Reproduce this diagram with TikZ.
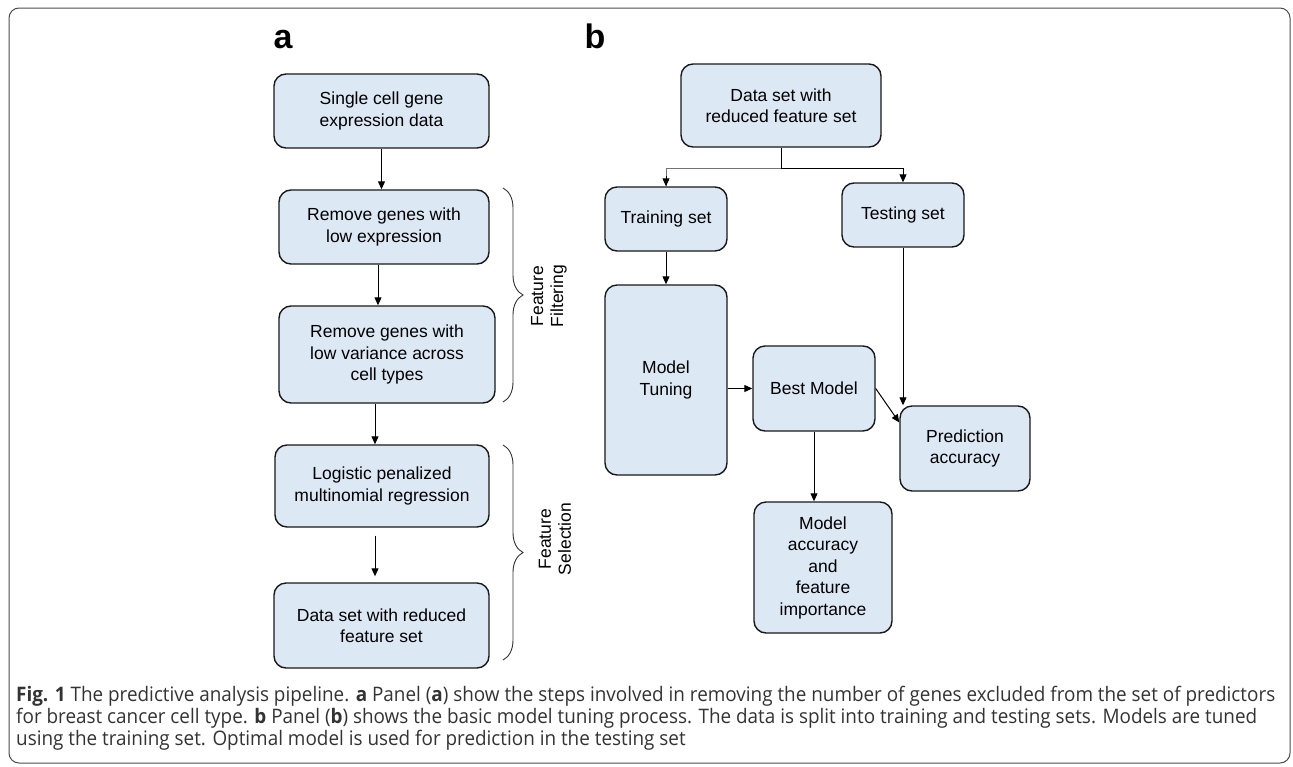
\documentclass[tikz,border=0pt]{standalone}
\usepackage{fontspec}
\usepackage{graphicx}
\usepackage{tikz}
\usetikzlibrary{arrows.meta,decorations.pathreplacing}
\setmainfont{Liberation Sans}
\newfontfamily\capfont{Open Sans}
\definecolor{boxblue}{RGB}{221,232,245}
\newlength\capwd
\newcommand\capA{\textbf{Fig. 1} The predictive analysis pipeline. \textbf{a} Panel (\textbf{a}) show the steps involved in removing the number of genes excluded from the set of predictors}
\newcommand\capB{for breast cancer cell type. \textbf{b} Panel (\textbf{b}) shows the basic model tuning process. The data is split into training and testing sets. Models are tuned}
\newcommand\capC{using the training set. Optimal model is used for prediction in the testing set}
\newcommand\capsize{\capfont\fontsize{20}{24}\selectfont}
\AtBeginDocument{\settowidth\capwd{\capsize\capA}\pgfmathsetmacro\capsx{1259/\capwd}}

\begin{document}
\begin{tikzpicture}[x=1pt,y=-1pt,
    stepbox/.style={draw=black!90,line width=1.4pt,fill=boxblue,rounded corners=12pt,align=center,inner sep=0pt,font=\fontsize{17.5}{21.5}\selectfont},
    arr/.style={-{Triangle[length=8pt,width=7pt]},line width=1pt},
    panel/.style={font=\fontsize{34}{34}\selectfont\bfseries,anchor=base},
    bracetxt/.style={rotate=90,align=center,font=\fontsize{17.5}{20}\selectfont},
    grp/.style={decorate,decoration={brace,amplitude=20pt},line width=0.9pt,black!80}]
                \useasboundingbox (0,0) rectangle (1293,766);
                \draw[rounded corners=10pt,line width=1pt,black!70] (9,8) rectangle (1290,763);
                \node[panel] (la) at (283,48) {a};
                \node[panel] (lb) at (595,48) {b};
                % panel a
                \node[stepbox,minimum width=215pt,minimum height=74pt] (single) at (381.5,111) {Single cell gene\\expression data};
                \node[stepbox,minimum width=210pt,minimum height=74pt] (lowexpr) at (384,227) {Remove genes with\\low expression};
                \node[stepbox,minimum width=216pt,minimum height=97pt] (lowvar) at (387,354.5) {Remove genes with\\low variance across\\cell types};
                \node[stepbox,minimum width=214pt,minimum height=82pt] (logit) at (382,486) {Logistic penalized\\multinomial regression};
                \node[stepbox,minimum width=215pt,minimum height=85pt] (reduced) at (381.5,625.5) {Data set with reduced\\feature set};
                \draw[arr] (single.south) -- (single.south |- lowexpr.north);
                \draw[arr] ([xshift=-6pt]lowexpr.south) -- ([xshift=-6pt]lowexpr.south |- lowvar.north);
                \draw[arr] ([xshift=-12pt]lowvar.south) -- ([xshift=-12pt]lowvar.south |- logit.north);
                \draw[arr,shorten <=8pt,shorten >=6pt] ([xshift=-7pt]logit.south) -- ([xshift=-7pt]logit.south |- reduced.north);
                \draw[grp] (503,188) -- (503,402);
                \node[bracetxt] (filt) at (549,296) {Feature\\Filtering};
                \draw[grp] (503,445) -- (503,660);
                \node[bracetxt] (sel) at (555,539) {Feature\\Selection};
                % panel b
                \node[stepbox,minimum width=200pt,minimum height=83pt] (dataset) at (781,105.5) {Data set with\\reduced feature set};
                \node[stepbox,minimum width=122pt,minimum height=64pt] (train) at (666,219) {Training set};
                \node[stepbox,minimum width=122pt,minimum height=64pt] (test) at (903,215) {Testing set};
                \node[stepbox,minimum width=122pt,minimum height=190pt] (tuning) at (666,380) {Model\\Tuning};
                \node[stepbox,minimum width=122pt,minimum height=85pt] (best) at (814,388.5) {Best Model};
                \node[stepbox,minimum width=130pt,minimum height=85pt] (predacc) at (965,448.5) {Prediction\\accuracy};
                \node[stepbox,minimum width=138pt,minimum height=131pt] (modelacc) at (823,567.5) {Model\\accuracy\\and\\feature\\importance};
                \draw[black!55,line width=1pt] (dataset.south) -- ++(0,21) -| (train.north);
                \draw[arr] ([yshift=10pt]train.north) -- (train.north);
                \draw[arr] (dataset.south) -- ++(0,21) -| (test.north);
                \draw[arr] (train) -- (tuning);
                \draw[arr] (test.south) -- (test.south |- predacc.north);
                \draw[arr] (tuning.east |- best.west) -- (best.west);
                \draw[arr] (best.east) -- ([yshift=26pt]predacc.west);
                \draw[arr] (best.south) -- (best.south |- modelacc.north);
                % caption
                \node[anchor=base west,inner sep=0pt,black!80] (capa) at (16,701) {\scalebox{\capsx}[1]{\capsize\capA}};
                \node[anchor=base west,inner sep=0pt,black!80] (capb) at (16,723) {\scalebox{\capsx}[1]{\capsize\capB}};
                \node[anchor=base west,inner sep=0pt,black!80] (capc) at (16,745) {\scalebox{\capsx}[1]{\capsize\capC}};
\end{tikzpicture}
\end{document}
